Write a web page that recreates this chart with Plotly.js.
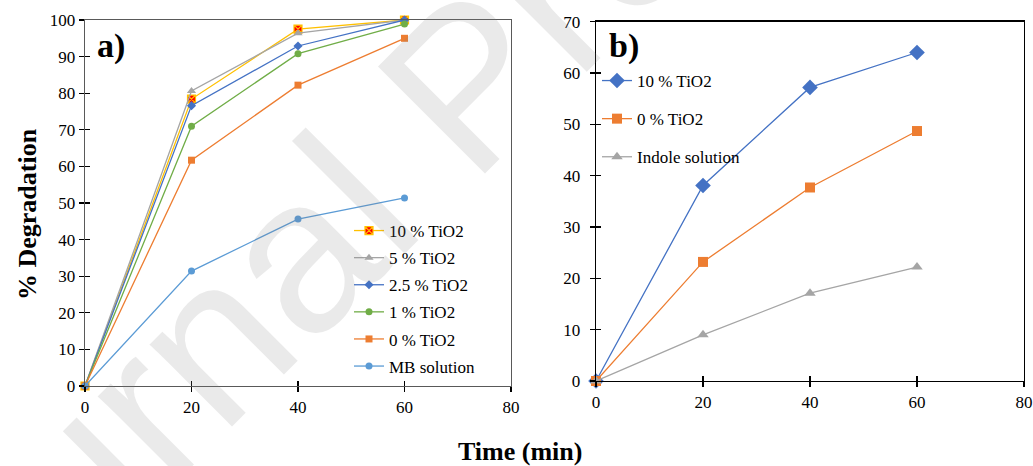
<!DOCTYPE html>
<html>
<head>
<meta charset="utf-8">
<script src="https://cdn.plot.ly/plotly-3.0.1.min.js"></script>
<style>html,body{margin:0;padding:0;background:#fff;}#chart{width:1033px;height:466px;}</style>
</head>
<body>
<div id="chart"></div>
<script>
// ---- data ----
const timeA = [0, 20, 40, 60];
const tio2_10_A = [0, 78.4, 97.5, 100];
const tio2_5_A = [0, 80.6, 96.4, 100];
const tio2_2_5_A = [0, 76.6, 92.9, 100];
const tio2_1_A = [0, 71.0, 90.8, 98.9];
const tio2_0_A = [0, 61.7, 82.2, 95.0];
const mbSolution = [0, 31.4, 45.6, 51.4];
const namesA = ["10 % TiO2", "5 % TiO2", "2.5 % TiO2", "1 % TiO2", "0 % TiO2", "MB solution"];

const timeB = [0, 20, 40, 60];
const tio2_10_B = [0, 38.1, 57.2, 64.0];
const tio2_0_B = [0, 23.2, 37.7, 48.7];
const indoleSolution = [0, 9.0, 17.1, 22.2];
const namesB = ["10 % TiO2", "0 % TiO2", "Indole solution"];

const xTicks = [0, 20, 40, 60, 80];

const serif = "Liberation Serif";

function tr(x, y, name, color, symbol, size, mcolor, mline, xa, ya, leg, grp) {
  return {
    x: x, y: y, name: name, type: 'scatter', mode: 'lines+markers',
    xaxis: xa, yaxis: ya, legend: leg, legendgroup: grp, cliponaxis: false,
    line: {color: color, width: 1.3},
    marker: {symbol: symbol, size: size, color: mcolor || color,
             line: {color: mline || (mcolor || color), width: mline ? 1.2 : 0}}
  };
}

const data = [
  tr(timeA, tio2_10_A, namesA[0], '#FFC000', 'square-x', 8, '#FF0000', '#FFC000', 'x', 'y', 'legend', 'a1'),
  tr(timeA, tio2_5_A, namesA[1], '#A5A5A5', 'triangle-up', 8, null, null, 'x', 'y', 'legend', 'a2'),
  tr(timeA, tio2_2_5_A, namesA[2], '#4472C4', 'diamond', 7, null, null, 'x', 'y', 'legend', 'a3'),
  tr(timeA, tio2_1_A, namesA[3], '#70AD47', 'circle', 7, null, null, 'x', 'y', 'legend', 'a4'),
  tr(timeA, tio2_0_A, namesA[4], '#ED7D31', 'square', 7, null, null, 'x', 'y', 'legend', 'a5'),
  tr(timeA, mbSolution, namesA[5], '#5B9BD5', 'circle', 7, null, null, 'x', 'y', 'legend', 'a6'),
  tr(timeB, tio2_10_B, namesB[0], '#4472C4', 'diamond', 12, null, null, 'x2', 'y2', 'legend2', 'b1'),
  tr(timeB, tio2_0_B, namesB[1], '#ED7D31', 'square', 10, null, null, 'x2', 'y2', 'legend2', 'b2'),
  tr(timeB, indoleSolution, namesB[2], '#A5A5A5', 'triangle-up', 10, null, null, 'x2', 'y2', 'legend2', 'b3'),
  // empty helper traces so the inner-tick overlay axes get drawn
  {x: [], y: [], type: 'scatter', mode: 'lines', xaxis: 'x3', yaxis: 'y3', showlegend: false, hoverinfo: 'skip'},
  {x: [], y: [], type: 'scatter', mode: 'lines', xaxis: 'x4', yaxis: 'y4', showlegend: false, hoverinfo: 'skip'}
];

const W = 1033, H = 466;
const px = v => v / W, py = v => (H - v) / H;

function mainAxis(domain, range, dtick, anchor, lineColor, tickvals, standoff) {
  const ax = {domain: domain, range: range, anchor: anchor, showgrid: false, zeroline: false,
    showline: true, linecolor: lineColor, linewidth: 1.3, mirror: true,
    ticks: 'outside', ticklen: 5, tickwidth: 1.2, tickcolor: '#000',
    tickfont: {family: serif, size: 17, color: '#000'}, fixedrange: true};
  if (standoff) ax.ticklabelstandoff = standoff;
  if (tickvals) { ax.tickmode = 'array'; ax.tickvals = tickvals; ax.ticktext = tickvals.map(String); }
  else { ax.dtick = dtick; ax.tick0 = 0; }
  return ax;
}
function innerAxis(over, anchor, range, dtick, side) {
  return {overlaying: over, anchor: anchor, side: side, range: range, dtick: dtick, tick0: 0,
    showgrid: false, zeroline: false, showline: false, ticks: 'inside', ticklen: 5,
    tickwidth: 1.2, tickcolor: '#000', showticklabels: false, fixedrange: true};
}

const layout = {
  width: W, height: H,
  margin: {l: 0, r: 0, t: 0, b: 0},
  paper_bgcolor: '#fff', plot_bgcolor: 'rgba(0,0,0,0)',
  font: {family: serif, size: 17, color: '#000'},
  xaxis: mainAxis([px(85), px(511)], [0, 80], 20, 'y', '#595959', xTicks),
  yaxis: mainAxis([py(386), py(20)], [0, 100], 10, 'x', '#595959'),
  xaxis2: mainAxis([px(596), px(1024)], [0, 80], 20, 'y2', '#000', xTicks),
  yaxis2: mainAxis([py(381), py(21.7)], [0, 70], 10, 'x2', '#000', null, 6),
  xaxis3: innerAxis('x', 'y', [0, 80], 20, 'bottom'),
  yaxis3: innerAxis('y', 'x', [0, 100], 10, 'left'),
  xaxis4: innerAxis('x2', 'y2', [0, 80], 20, 'bottom'),
  yaxis4: innerAxis('y2', 'x2', [0, 70], 10, 'left'),
  legend: {x: px(349), y: py(213), xanchor: 'left', yanchor: 'top', bgcolor: 'rgba(0,0,0,0)',
    font: {family: serif, size: 17, color: '#000'}, tracegroupgap: 2, itemclick: false},
  legend2: {x: px(597), y: py(63), xanchor: 'left', yanchor: 'top', bgcolor: 'rgba(0,0,0,0)',
    font: {family: serif, size: 17, color: '#000'}, tracegroupgap: 13, itemclick: false},
  annotations: [
    {text: 'Journal Pre-proof', xref: 'paper', yref: 'paper', x: px(466), y: py(85),
     xanchor: 'center', yanchor: 'middle', showarrow: false, textangle: -45,
     font: {family: 'Liberation Sans', size: 220, color: 'rgba(128,128,128,0.17)'}},
    {text: '<b>% Degradation</b>', xref: 'paper', yref: 'paper', x: px(28), y: py(214),
     xanchor: 'center', yanchor: 'middle', showarrow: false, textangle: -90,
     font: {family: serif, size: 26, color: '#000'}},
    {text: '<b>Time (min)</b>', xref: 'paper', yref: 'paper', x: px(520), y: py(451),
     xanchor: 'center', yanchor: 'middle', showarrow: false,
     font: {family: serif, size: 26, color: '#000'}},
    {text: '<b>a)</b>', xref: 'paper', yref: 'paper', x: px(111), y: py(46),
     xanchor: 'center', yanchor: 'middle', showarrow: false,
     font: {family: serif, size: 34, color: '#000'}},
    {text: '<b>b)</b>', xref: 'paper', yref: 'paper', x: px(624), y: py(46),
     xanchor: 'center', yanchor: 'middle', showarrow: false,
     font: {family: serif, size: 34, color: '#000'}}
  ]
};

Plotly.newPlot('chart', data, layout, {displayModeBar: false, staticPlot: true});
</script>
</body>
</html>
